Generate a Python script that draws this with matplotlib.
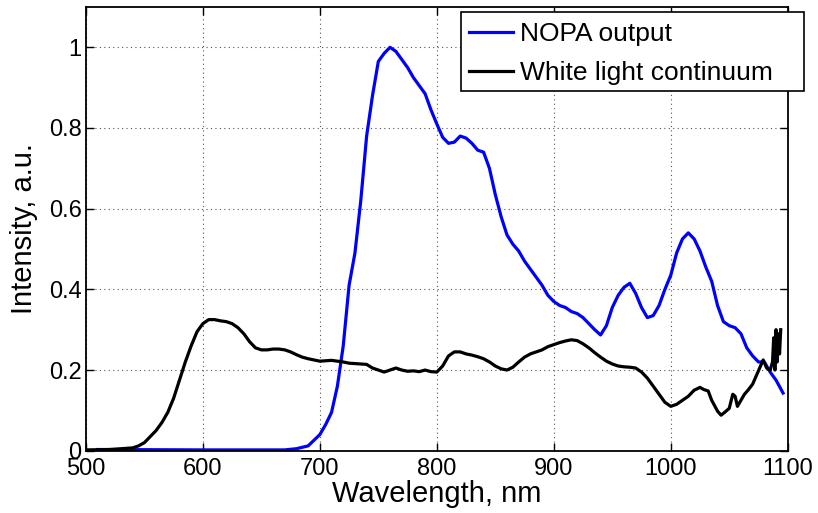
import numpy as np
import matplotlib.pyplot as plt
from matplotlib.patches import Rectangle

plt.rcParams['font.family'] = ['Liberation Sans', 'DejaVu Sans']

# NOPA output (blue)
nopa_wl = [510, 600, 670, 680, 690, 700, 705, 710, 715, 720, 725, 730, 735, 740, 745, 750,
           755, 760, 765, 770, 775, 780, 785, 790, 795, 800, 805, 810, 815, 820, 825,
           830, 835, 840, 845, 850, 855, 860, 865, 870, 875, 880, 885, 890, 895, 900,
           905, 910, 915, 920, 925, 930, 935, 940, 945, 950, 955, 960, 965, 970, 975,
           980, 985, 990, 995, 1000, 1005, 1010, 1015, 1020, 1025, 1030, 1035, 1040,
           1045, 1050, 1055, 1060, 1065, 1070, 1075, 1080, 1085, 1090, 1096]
nopa_int = [0.003, 0.002, 0.002, 0.005, 0.012, 0.04, 0.065, 0.095, 0.16, 0.26, 0.41, 0.49,
            0.62, 0.78, 0.88, 0.965, 0.985, 1.0, 0.99, 0.97, 0.95, 0.925, 0.905, 0.885,
            0.845, 0.81, 0.777, 0.762, 0.765, 0.78, 0.775, 0.762, 0.745, 0.74, 0.70,
            0.635, 0.58, 0.535, 0.512, 0.495, 0.47, 0.45, 0.43, 0.41, 0.385, 0.37, 0.36,
            0.355, 0.345, 0.34, 0.33, 0.315, 0.30, 0.287, 0.31, 0.355, 0.385, 0.405,
            0.415, 0.39, 0.355, 0.33, 0.335, 0.36, 0.40, 0.435, 0.49, 0.525, 0.54, 0.525,
            0.495, 0.455, 0.42, 0.36, 0.32, 0.31, 0.305, 0.29, 0.255, 0.235, 0.22, 0.22,
            0.195, 0.175, 0.143]

# White light continuum (black)
wlc_wl = [500, 520, 540, 545, 550, 555, 560, 565, 570, 575, 580, 585, 590, 595, 600, 605,
          610, 615, 620, 625, 630, 635, 640, 645, 650, 655, 660, 665, 670, 675, 680, 685,
          690, 695, 700, 705, 710, 715, 720, 725, 730, 735, 740, 745, 750, 755, 760, 765,
          770, 775, 780, 785, 790, 795, 800, 805, 810, 815, 820, 825, 830, 835, 840, 845,
          850, 855, 860, 865, 870, 875, 880, 885, 890, 895, 900, 905, 910, 915, 920, 925,
          930, 935, 940, 945, 950, 955, 960, 965, 970, 975, 980, 985, 990, 995, 1000,
          1005, 1010, 1015, 1020, 1025, 1028, 1032, 1035, 1040, 1043, 1046, 1050, 1053,
          1055, 1057, 1060, 1063, 1066, 1070, 1073, 1076, 1079, 1082, 1085, 1087, 1088,
          1089, 1090, 1091, 1092, 1093, 1094]
wlc_int = [0.002, 0.003, 0.007, 0.012, 0.02, 0.035, 0.05, 0.07, 0.095, 0.13, 0.175, 0.22,
           0.26, 0.295, 0.315, 0.325, 0.325, 0.322, 0.32, 0.315, 0.305, 0.29, 0.27, 0.255,
           0.25, 0.25, 0.252, 0.252, 0.25, 0.245, 0.238, 0.232, 0.228, 0.225, 0.222, 0.223,
           0.224, 0.222, 0.22, 0.217, 0.216, 0.215, 0.214, 0.205, 0.2, 0.195, 0.2, 0.205,
           0.2, 0.197, 0.198, 0.196, 0.2, 0.196, 0.195, 0.21, 0.235, 0.245, 0.245, 0.24,
           0.237, 0.233, 0.228, 0.22, 0.21, 0.203, 0.2, 0.207, 0.22, 0.232, 0.24, 0.245,
           0.25, 0.258, 0.263, 0.268, 0.272, 0.275, 0.273, 0.265, 0.255, 0.243, 0.232,
           0.222, 0.215, 0.21, 0.208, 0.207, 0.205, 0.195, 0.18, 0.16, 0.14, 0.12, 0.11,
           0.115, 0.125, 0.135, 0.15, 0.157, 0.152, 0.148, 0.125, 0.098, 0.088, 0.095,
           0.105, 0.14, 0.135, 0.11, 0.125, 0.14, 0.15, 0.165, 0.185, 0.205, 0.225, 0.205,
           0.2, 0.22, 0.28, 0.2, 0.3, 0.22, 0.29, 0.24, 0.3]

fig = plt.figure(figsize=(8.18, 5.13), dpi=100)
ax = fig.add_axes([0.105, 0.1214, 0.858, 0.865])

ax.plot(nopa_wl, nopa_int, color='#0000ff', lw=2.3, label='NOPA output')
ax.plot(wlc_wl, wlc_int, color='black', lw=2.3, label='White light continuum')

ax.set_xlim(500, 1100)
ax.set_ylim(0, 1.1)
ax.set_xticks(np.arange(500, 1101, 100))
ax.set_yticks([0, 0.2, 0.4, 0.6, 0.8, 1])
ax.set_yticklabels(['0', '0.2', '0.4', '0.6', '0.8', '1'])
ax.grid(True, linestyle=(0, (1, 3)), color='#555555', lw=0.8)
ax.tick_params(direction='in', top=True, right=True, length=6, width=1,
               labelsize=17)
ax.tick_params(axis='x', pad=5)
ax.tick_params(axis='y', pad=3)
for s in ax.spines.values():
    s.set_linewidth(1.3)

ax.set_xlabel('Wavelength, nm', fontsize=21, labelpad=0)
ax.set_ylabel('Intensity, a.u.', fontsize=21, labelpad=8)

# matlab-style legend box, a bit wider than its text and sticking out of the axes
box = Rectangle((0.534, 0.8107), 0.4888, 0.178, transform=ax.transAxes,
                facecolor='white', edgecolor='black', lw=1.2, clip_on=False, zorder=4)
ax.add_patch(box)
leg = ax.legend(loc='upper left', bbox_to_anchor=(0.534, 0.983), borderaxespad=0,
                fontsize=19, frameon=False,
                handlelength=1.7, handletextpad=0.25, borderpad=0.3,
                labelspacing=0.55)
leg.set_zorder(5)

fig.savefig('out.png', dpi=100)
